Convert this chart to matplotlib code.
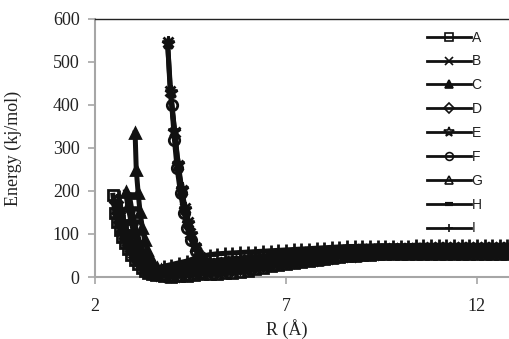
import numpy as np
import matplotlib
matplotlib.use("Agg")
import matplotlib.pyplot as plt

# ---------------- data ----------------
labels = ["A", "B", "C", "D", "E", "F", "G", "H", "I"]

TAIL_R = list(np.round(np.arange(3.6, 12.81, 0.2), 2))

wall_R = {
    "A": [2.47, 2.52, 2.58, 2.65, 2.72, 2.79, 2.87, 2.95, 3.04, 3.13, 3.22, 3.31, 3.40, 3.50],
    "B": [3.90, 3.97, 4.09, 4.17, 4.27, 4.36, 4.43, 4.50, 4.62, 4.75, 4.88],
    "C": [3.05, 3.08, 3.13, 3.18, 3.24, 3.30, 3.37, 3.45, 3.53, 3.62, 3.72, 3.82],
    "D": [2.55, 2.60, 2.66, 2.73, 2.80, 2.88, 2.96, 3.05, 3.14, 3.24, 3.34, 3.44, 3.54],
    "E": [3.90, 3.98, 4.08, 4.18, 4.27, 4.35, 4.44, 4.52, 4.63, 4.76, 4.88],
    "F": [4.01, 4.08, 4.15, 4.24, 4.33, 4.42, 4.52, 4.65, 4.78],
    "G": [2.80, 2.86, 2.93, 3.00, 3.08, 3.16, 3.25, 3.35, 3.45, 3.55],
    "H": [2.90, 2.96, 3.03, 3.10, 3.18, 3.27, 3.37, 3.48, 3.60],
    "I": [2.62, 2.68, 2.75, 2.83, 2.91, 3.00, 3.10, 3.20, 3.31, 3.43, 3.53],
}
wall_E = {
    "A": [190, 148, 128, 110, 94, 79, 65, 52, 40, 30, 21, 14, 9, 6],
    "B": [547, 433, 337, 260, 202, 160, 128, 102, 70, 47, 35],
    "C": [335, 250, 195, 151, 114, 86, 63, 45, 32, 22, 16, 14],
    "D": [175, 150, 128, 108, 90, 74, 60, 47, 36, 26, 18, 12, 9],
    "E": [545, 430, 340, 262, 205, 158, 125, 100, 72, 48, 33],
    "F": [400, 319, 253, 195, 150, 115, 85, 60, 42],
    "G": [198, 165, 135, 108, 84, 63, 45, 30, 18, 10],
    "H": [190, 158, 128, 102, 78, 57, 40, 26, 17],
    "I": [188, 160, 133, 110, 90, 72, 56, 42, 31, 22, 18],
}
tail_E = {
    "A": [4, 2, 1, 2, 3, 5, 7, 8, 8, 9, 10, 12, 15, 18, 21, 25, 29, 31, 33, 36, 38, 40, 42, 44,
          46, 48, 49, 51, 52, 53, 53, 53, 53, 54, 53, 54, 54, 54, 53, 54, 54, 54, 54, 54, 54, 54, 54],
    "B": [33, 32, 34, 37, 40, 43, 45, 47, 49, 51, 53, 54, 56, 57, 58, 59, 60, 61, 62, 63, 64, 65,
          66, 66, 67, 67, 68, 68, 68, 69, 69, 69, 69, 69, 69, 69, 69, 69, 69, 69],
    "C": [14, 16, 18, 21, 24, 28, 29, 31, 33, 35, 38, 39, 41, 42, 44, 46, 47, 48, 50, 51, 53, 54,
          55, 56, 57, 58, 59, 60, 60, 61, 62, 62, 62, 63, 63, 63, 63, 64, 64, 64, 64, 64, 64, 64, 64],
    "D": [7, 5, 4, 5, 7, 9, 12, 14, 15, 16, 18, 20, 22, 25, 27, 30, 33, 35, 37, 39, 41, 43, 45, 47,
          49, 51, 52, 54, 55, 56, 57, 57, 57, 58, 58, 58, 58, 58, 58, 59, 59, 59, 59, 59, 59, 59, 59],
    "E": [29, 28, 30, 32, 34, 36, 38, 39, 41, 43, 44, 46, 47, 48, 50, 51, 52, 54, 55, 56, 57, 58,
          59, 59, 60, 61, 61, 61, 62, 62, 62, 62, 63, 63, 63, 63, 63, 63, 63, 63],
    "F": [27, 25, 26, 27, 29, 30, 32, 34, 35, 37, 38, 40, 42, 43, 45, 46, 48, 49, 51, 52, 53, 54,
          55, 56, 56, 57, 57, 58, 58, 58, 59, 59, 59, 59, 60, 60, 60, 60, 60, 60],
    "G": [7, 8, 10, 12, 15, 18, 20, 22, 24, 26, 28, 30, 32, 33, 35, 37, 38, 40, 42, 43, 45, 46, 48,
          49, 50, 52, 53, 55, 56, 57, 58, 58, 59, 59, 60, 60, 60, 60, 61, 61, 61, 61, 61, 61, 61, 61, 61],
    "H": [14, 20, 24, 28, 31, 33, 35, 37, 39, 41, 43, 45, 46, 47, 49, 50, 52, 53, 54, 55, 56, 58,
          59, 60, 61, 62, 63, 64, 64, 65, 65, 66, 66, 66, 67, 67, 67, 67, 68, 68, 68, 68, 68, 68, 68, 68],
    "I": [20, 25, 29, 33, 37, 43, 48, 52, 54, 55, 56, 57, 58, 59, 60, 61, 62, 63, 64, 65, 66, 67, 68,
          69, 70, 71, 71, 72, 72, 73, 73, 73, 73, 73, 74, 74, 74, 74, 74, 74, 74, 74, 74, 74, 74, 74, 74],
}

x_ticks = [2, 7, 12]
y_ticks = [0, 100, 200, 300, 400, 500, 600]

# ---------------- style ----------------
styles = {
    "A": dict(marker="s", mfc="none", ms=7.5),
    "B": dict(marker="x", mfc="none", ms=7.5),
    "C": dict(marker="^", mfc="#111111", ms=7.5),
    "D": dict(marker="D", mfc="none", ms=6.5),
    "E": dict(marker="*", mfc="none", ms=9.5),
    "F": dict(marker="o", mfc="none", ms=7.5),
    "G": dict(marker="^", mfc="none", ms=7.5),
    "H": dict(marker="_", mfc="#111111", ms=8, mew=4),
    "I": dict(marker="+", mfc="none", ms=8.5),
}

serif = "Liberation Serif"
W, H = 509, 339
fig = plt.figure(figsize=(W / 100, H / 100), dpi=100)
ax = fig.add_axes([95 / W, 1 - 277 / H, 1 - 95 / W, (277 - 19) / H])

for lab in labels:
    tE = tail_E[lab]
    tR = TAIL_R[len(TAIL_R) - len(tE):]
    R = wall_R[lab] + list(tR)
    E = wall_E[lab] + list(tE)
    st = dict(styles[lab])
    mew = st.pop("mew", 2.0)
    ax.plot(R, E, color="#111111", lw=3.6, mec="#111111", mew=mew, label=lab,
            clip_on=False, **st)

ax.set_xlim(2, 12.84)
ax.set_ylim(0, 600)
ax.set_xticks(x_ticks)
ax.set_yticks(y_ticks)
ax.set_xticklabels([str(v) for v in x_ticks], fontfamily=serif, fontsize=13)
ax.set_yticklabels([str(v) for v in y_ticks], fontfamily=serif, fontsize=13)

for s in ["left", "bottom"]:
    ax.spines[s].set_color("#a6a6a6")
    ax.spines[s].set_linewidth(1.5)
    ax.spines[s].set_zorder(0)
ax.spines["top"].set_color("#222222")
ax.spines["top"].set_linewidth(1.0)
ax.spines["right"].set_visible(False)
ax.tick_params(axis="both", colors="#a6a6a6", length=5, width=1.2, labelcolor="#222222")
ax.tick_params(axis="x", pad=10)
ax.tick_params(axis="y", pad=6)

ax.set_xlabel("R (Å)", fontfamily=serif, fontsize=13, color="#222222")
ax.xaxis.set_label_coords((287 - 95) / (W - 95), -0.162)
ax.set_ylabel("Energy (kj/mol)", fontfamily=serif, fontsize=13, color="#222222")
ax.yaxis.set_label_coords(-(95 - 22) / (W - 95), 0.5)

leg = ax.legend(loc="upper left", bbox_to_anchor=(421 / W, 1 - 25 / H),
                bbox_transform=fig.transFigure, frameon=False,
                handlelength=3.2, handletextpad=0.05, labelspacing=0.71,
                markerscale=0.75,
                prop={"family": "Liberation Sans", "size": 10}, borderaxespad=0)
for ln, lab in zip(leg.get_lines(), labels):
    ln.set_linewidth(2.0)
    ln.set_markeredgewidth(3.0 if lab == "H" else 1.2)
for t in leg.get_texts():
    t.set_color("#222222")

fig.savefig("out.png", dpi=100)
